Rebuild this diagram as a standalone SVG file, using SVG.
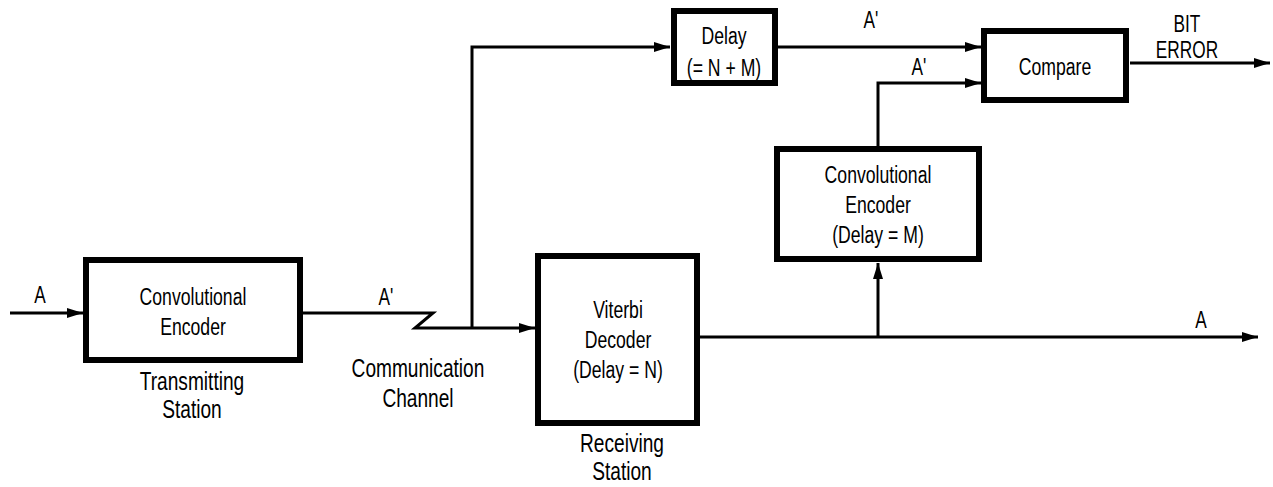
<svg xmlns="http://www.w3.org/2000/svg" width="1273" height="487" viewBox="0 0 1273 487">
<style>
  .box { fill: #ffffff; stroke: #000000; stroke-width: 6; }
  .wire { fill: none; stroke: #000000; stroke-width: 3; stroke-linejoin: miter; }
  text { font-family: "Liberation Sans", Arial, sans-serif; fill: #000000; text-anchor: middle;
         transform-box: fill-box; transform-origin: center; transform: scaleX(0.75); }
  .in { font-size: 23.5px; }
  .lbl { font-size: 25.5px; }
  .sig { font-size: 23px; }
</style>
<defs>
  <marker id="arrow" viewBox="0 0 16 10" refX="16" refY="5" markerWidth="16" markerHeight="10" markerUnits="userSpaceOnUse" orient="auto">
    <path d="M0,0 L16,5 L0,10 z" fill="#000000"/>
  </marker>
</defs>
<rect width="1273" height="487" fill="#ffffff"/>

<g id="connectors">
  <path class="wire" d="M10,313 H83" marker-end="url(#arrow)"/>
  <path class="wire" d="M303,313 H433 L415,328 H535" marker-end="url(#arrow)"/>
  <path class="wire" d="M472,328 V47 H670" marker-end="url(#arrow)"/>
  <path class="wire" d="M778,47 H981" marker-end="url(#arrow)"/>
  <path class="wire" d="M700,337 H1258" marker-end="url(#arrow)"/>
  <path class="wire" d="M878,337 V263" marker-end="url(#arrow)"/>
  <path class="wire" d="M878,146 V83 H981" marker-end="url(#arrow)"/>
  <path class="wire" d="M1130,63 H1270" marker-end="url(#arrow)"/>
</g>

<g id="signal-labels">
  <text class="sig" x="40" y="303">A</text>
  <text class="sig" x="386" y="305">A'</text>
  <text class="sig" x="871" y="28">A'</text>
  <text class="sig" x="919" y="75">A'</text>
  <text class="sig" x="1187" y="32">BIT</text>
  <text class="sig" x="1187" y="58">ERROR</text>
  <text class="sig" x="1201" y="328">A</text>
</g>

<g id="tx-encoder">
  <rect class="box" x="86" y="260" width="214" height="100"/>
  <text class="in" x="193" y="305">Convolutional</text>
  <text class="in" x="193" y="335">Encoder</text>
</g>
<g id="tx-label">
  <text class="lbl" x="192" y="390">Transmitting</text>
  <text class="lbl" x="192" y="418">Station</text>
</g>

<g id="channel-label">
  <text class="lbl" x="418" y="377">Communication</text>
  <text class="lbl" x="418" y="407">Channel</text>
</g>

<g id="viterbi">
  <rect class="box" x="538" y="256" width="159" height="167"/>
  <text class="in" x="618" y="318">Viterbi</text>
  <text class="in" x="618" y="348">Decoder</text>
  <text class="in" x="618" y="378">(Delay = N)</text>
</g>
<g id="rx-label">
  <text class="lbl" x="622" y="452">Receiving</text>
  <text class="lbl" x="622" y="480">Station</text>
</g>

<g id="delay">
  <rect class="box" x="674" y="11" width="101" height="72"/>
  <text class="in" x="724" y="44">Delay</text>
  <text class="in" x="724" y="76">(= N + M)</text>
</g>

<g id="rx-encoder">
  <rect class="box" x="777" y="149" width="202" height="110"/>
  <text class="in" x="878" y="183">Convolutional</text>
  <text class="in" x="878" y="213">Encoder</text>
  <text class="in" x="878" y="243">(Delay = M)</text>
</g>

<g id="compare">
  <rect class="box" x="984" y="31" width="142" height="69"/>
  <text class="in" x="1055" y="75">Compare</text>
</g>
</svg>
